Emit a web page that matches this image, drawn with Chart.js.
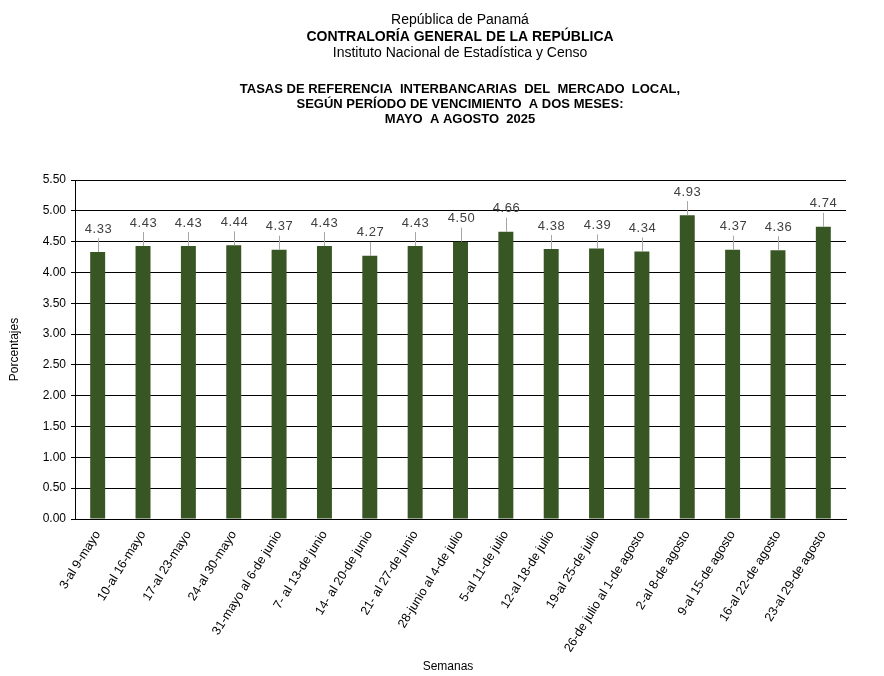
<!DOCTYPE html>
<html>
<head>
<meta charset="utf-8">
<script src="https://cdn.jsdelivr.net/npm/chart.js@4.4.1/dist/chart.umd.min.js"></script>
<style>
html,body{margin:0;padding:0;background:#fff;}
#wrap{width:884px;height:676px;position:relative;}
</style>
</head>
<body>
<div id="wrap"><canvas id="c" width="884" height="676"></canvas></div>
<script>
const categories = [
  "3-al 9-mayo", "10-al 16-mayo", "17-al 23-mayo", "24-al 30-mayo",
  "31-mayo al 6-de junio", "7- al 13-de junio", "14- al 20-de junio", "21- al 27-de junio",
  "28-junio al 4-de julio", "5-al 11-de julio", "12-al 18-de julio", "19-al 25-de julio",
  "26-de julio al 1-de agosto", "2-al 8-de agosto", "9-al 15-de agosto", "16-al 22-de agosto",
  "23-al 29-de agosto"
];
const values = [4.33, 4.43, 4.43, 4.44, 4.37, 4.43, 4.27, 4.43, 4.50, 4.66, 4.38, 4.39, 4.34, 4.93, 4.37, 4.36, 4.74];
const yTickMin = 0, yTickMax = 5.5, yTickStep = 0.5;
const headerLines = [
  {text: "República de Panamá", bold: false, size: 14},
  {text: "CONTRALORÍA GENERAL DE LA REPÚBLICA", bold: true, size: 14},
  {text: "Instituto Nacional de Estadística y Censo", bold: false, size: 14},
  {text: "TASAS DE REFERENCIA  INTERBANCARIAS  DEL  MERCADO  LOCAL,", bold: true, size: 13},
  {text: "SEGÚN PERÍODO DE VENCIMIENTO  A DOS MESES:", bold: true, size: 13},
  {text: "MAYO  A AGOSTO  2025", bold: true, size: 13}
];
const headerY = [20, 37, 53, 89, 104, 119];
const xTitle = "Semanas";
const FONT = "'Liberation Sans', Arial, sans-serif";

const headerPlugin = {
  id: 'header',
  afterDraw(chart) {
    const ctx = chart.ctx;
    ctx.save();
    ctx.fillStyle = '#000';
    ctx.textAlign = 'center';
    ctx.textBaseline = 'middle';
    headerLines.forEach((l, i) => {
      ctx.font = (l.bold ? 'bold ' : '') + l.size + 'px ' + FONT;
      ctx.fillText(l.text, 460, headerY[i]);
    });
    ctx.font = '12px ' + FONT;
    ctx.fillText(xTitle, 448, 667);
    ctx.restore();
  }
};

const labelPlugin = {
  id: 'barLabels',
  afterDatasetsDraw(chart) {
    const ctx = chart.ctx;
    const meta = chart.getDatasetMeta(0);
    ctx.save();
    ctx.font = '13px ' + FONT;
    if ('letterSpacing' in ctx) ctx.letterSpacing = '0.5px';
    ctx.textAlign = 'center';
    ctx.textBaseline = 'middle';
    meta.data.forEach((bar, i) => {
      const x = Math.round(bar.x), top = bar.y;
      const ly = top - 23;
      ctx.strokeStyle = '#a6a6a6';
      ctx.lineWidth = 1;
      ctx.beginPath();
      ctx.moveTo(x + 0.5, top);
      ctx.lineTo(x + 0.5, ly + 9);
      ctx.stroke();
      ctx.fillStyle = '#404040';
      ctx.fillText(values[i].toFixed(2), x + 0.5, ly);
    });
    ctx.restore();
  }
};

new Chart(document.getElementById('c'), {
  type: 'bar',
  data: {
    labels: categories,
    datasets: [{
      data: values,
      backgroundColor: '#375623',
      borderWidth: 0,
      barPercentage: 0.33,
      categoryPercentage: 1.0
    }]
  },
  options: {
    responsive: false,
    animation: false,
    devicePixelRatio: 1,
    layout: {padding: {top: 180, left: 0, right: 38, bottom: 0}},
    plugins: {legend: {display: false}, tooltip: {enabled: false}, title: {display: false}},
    scales: {
      x: {
        grid: {display: false, drawTicks: false},
        border: {display: true, color: '#000', width: 1},
        ticks: {
          color: '#000', font: {family: FONT, size: 12.5},
          maxRotation: 58, minRotation: 58, autoSkip: false, padding: 9
        },
        afterFit(s) { s.height = 157; }
      },
      y: {
        min: yTickMin, max: yTickMax,
        grid: {color: '#000', lineWidth: 1, drawTicks: true, tickLength: 4},
        border: {display: true, color: '#000', width: 1},
        ticks: {
          stepSize: yTickStep, color: '#000', font: {family: FONT, size: 12}, padding: 5,
          callback: v => Number(v).toFixed(2)
        },
        title: {display: true, text: 'Porcentajes', color: '#000', font: {family: FONT, size: 12}, padding: {top: 7, bottom: 4}},
        afterFit(s) { s.width = 75; }
      }
    }
  },
  plugins: [headerPlugin, labelPlugin]
});
</script>
</body>
</html>
